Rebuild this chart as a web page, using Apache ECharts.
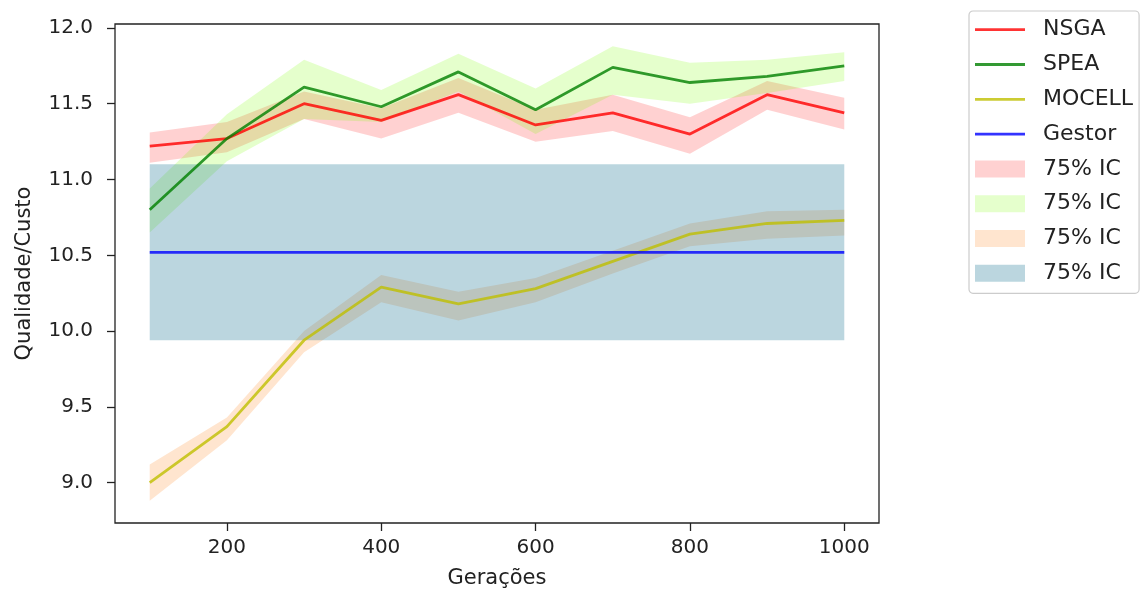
<!DOCTYPE html>
<html>
<head>
<meta charset="utf-8">
<script src="https://cdn.jsdelivr.net/npm/echarts@6/dist/echarts.min.js"></script>
<style>html,body{margin:0;padding:0;background:#fff;}#c{width:1140px;height:596px;}</style>
</head>
<body>
<div id="c"></div>
<script>
const generations = [100, 200, 300, 400, 500, 600, 700, 800, 900, 1000];
const nsga      = [11.22, 11.27, 11.50, 11.39, 11.56, 11.36, 11.44, 11.30, 11.56, 11.44];
const nsgaLow   = [11.11, 11.18, 11.40, 11.27, 11.44, 11.25, 11.32, 11.17, 11.46, 11.33];
const nsgaHigh  = [11.31, 11.38, 11.58, 11.47, 11.67, 11.46, 11.56, 11.41, 11.65, 11.54];
const spea      = [10.80, 11.27, 11.61, 11.48, 11.71, 11.46, 11.74, 11.64, 11.68, 11.75];
const speaLow   = [10.65, 11.12, 11.40, 11.38, 11.58, 11.30, 11.56, 11.50, 11.57, 11.65];
const speaHigh  = [10.94, 11.43, 11.79, 11.59, 11.83, 11.60, 11.88, 11.77, 11.79, 11.84];
const mocell    = [9.00, 9.37, 9.94, 10.29, 10.18, 10.28, 10.46, 10.64, 10.71, 10.73];
const mocellLow = [8.88, 9.28, 9.86, 10.19, 10.07, 10.19, 10.38, 10.56, 10.61, 10.63];
const mocellHigh= [9.12, 9.43, 10.00, 10.37, 10.26, 10.35, 10.53, 10.71, 10.79, 10.80];
const gestorX   = [100, 1000];
const gestor    = [10.52, 10.52];
const gestorLow = [9.94, 9.94];
const gestorHigh= [11.10, 11.10];
const xTicks = [200, 400, 600, 800, 1000];
const yTicks = [9.0, 9.5, 10.0, 10.5, 11.0, 11.5, 12.0];
const bandLabel = '75% IC';

const FONT = 'DejaVu Sans';
const chart = echarts.init(document.getElementById('c'), null, {renderer: 'canvas'});

function band(id, xs, lo, hi, color) {
  return {
    name: id, type: 'custom', silent: true, z: 1,
    itemStyle: { color: color },
    encode: { x: 0, y: [1, 2] },
    data: xs.map((v, i) => [v, lo[i], hi[i]]),
    renderItem: function (params, api) {
      if (params.dataIndexInside !== 0) return null;
      const n = params.dataInsideLength;
      const top = [], bottom = [];
      for (let i = 0; i < n; i++) {
        const xv = api.value(0, i);
        top.push(api.coord([xv, api.value(2, i)]));
        bottom.unshift(api.coord([xv, api.value(1, i)]));
      }
      return {
        type: 'polygon',
        shape: { points: top.concat(bottom) },
        style: { fill: color, stroke: null }
      };
    }
  };
}
function line(name, xs, ys, color) {
  return { name: name, type: 'line', data: xs.map((v, i) => [v, ys[i]]), symbol: 'none', showSymbol: false,
    lineStyle: { color: color, width: 2.8 }, itemStyle: { color: color }, z: 3 };
}

const cRed = 'rgba(255,0,0,0.8)', cGreen = 'rgba(0,128,0,0.8)', cYellow = 'rgba(191,191,0,0.8)', cBlue = 'rgba(0,0,255,0.8)';
const bRed = 'rgba(255,0,0,0.18)', bGreen = 'rgba(127,255,0,0.2)', bOrange = 'rgba(255,127,14,0.2)', bBlue = 'rgba(30,120,150,0.3)';

const series = [
  band('IC NSGA', generations, nsgaLow, nsgaHigh, bRed),
  band('IC SPEA', generations, speaLow, speaHigh, bGreen),
  band('IC MOCELL', generations, mocellLow, mocellHigh, bOrange),
  band('IC Gestor', gestorX, gestorLow, gestorHigh, bBlue),
  line('NSGA', generations, nsga, cRed),
  line('SPEA', generations, spea, cGreen),
  line('MOCELL', generations, mocell, cYellow),
  line('Gestor', gestorX, gestor, cBlue)
];

const lineIcon = 'path://M0,0 L0,0 M0,7.1 L50,7.1 L50,9.9 L0,9.9 Z M0,17 L0,17';

const option = {
  animation: false,
  backgroundColor: '#fff',
  grid: { left: 115, right: 261, top: 24, bottom: 73, show: true, borderColor: '#222', borderWidth: 1.3,
          backgroundColor: 'transparent', containLabel: false, outerBoundsMode: 'none' },
  xAxis: {
    type: 'value', min: 55, max: 1045,
    name: 'Gerações', nameLocation: 'middle', nameGap: 45,
    nameTextStyle: { fontFamily: FONT, fontSize: 21, color: '#222' },
    axisLine: { show: false },
    axisTick: { show: true, length: 8, lineStyle: { color: '#222', width: 1.3 }, customValues: xTicks },
    axisLabel: { fontFamily: FONT, fontSize: 20, color: '#222', margin: 15, customValues: xTicks,
                 formatter: v => String(v) },
    splitLine: { show: false }
  },
  yAxis: {
    type: 'value', min: 8.734, max: 12.026,
    name: 'Qualidade/Custo', nameLocation: 'middle', nameGap: 80, nameRotate: 90,
    nameTextStyle: { fontFamily: FONT, fontSize: 21, color: '#222' },
    axisLine: { show: false },
    axisTick: { show: true, length: 8, lineStyle: { color: '#222', width: 1.3 }, customValues: yTicks },
    axisLabel: { fontFamily: FONT, fontSize: 20, color: '#222', margin: 22, customValues: yTicks,
                 formatter: v => Number(v).toFixed(1) },
    splitLine: { show: false }
  },
  legend: {
    orient: 'vertical', left: 969, top: 11,
    padding: [7.7, 6, 9, 6],
    itemWidth: 50, itemHeight: 17, itemGap: 12.8,
    borderColor: '#ccc', borderWidth: 1.2, borderRadius: 4, backgroundColor: '#fff',
    textStyle: { fontFamily: FONT, fontSize: 22, color: '#222', padding: [0, 0, 0, 13] },
    formatter: name => name.indexOf('IC ') === 0 ? bandLabel : name,
    selectedMode: false,
    data: [
      { name: 'NSGA', icon: lineIcon, itemStyle: { color: cRed, borderWidth: 0 } },
      { name: 'SPEA', icon: lineIcon, itemStyle: { color: cGreen, borderWidth: 0 } },
      { name: 'MOCELL', icon: lineIcon, itemStyle: { color: cYellow, borderWidth: 0 } },
      { name: 'Gestor', icon: lineIcon, itemStyle: { color: cBlue, borderWidth: 0 } },
      { name: 'IC NSGA', icon: 'rect', itemStyle: { color: bRed, borderWidth: 0 } },
      { name: 'IC SPEA', icon: 'rect', itemStyle: { color: bGreen, borderWidth: 0 } },
      { name: 'IC MOCELL', icon: 'rect', itemStyle: { color: bOrange, borderWidth: 0 } },
      { name: 'IC Gestor', icon: 'rect', itemStyle: { color: bBlue, borderWidth: 0 } }
    ]
  },
  series: series
};
chart.setOption(option);
</script>
</body>
</html>
